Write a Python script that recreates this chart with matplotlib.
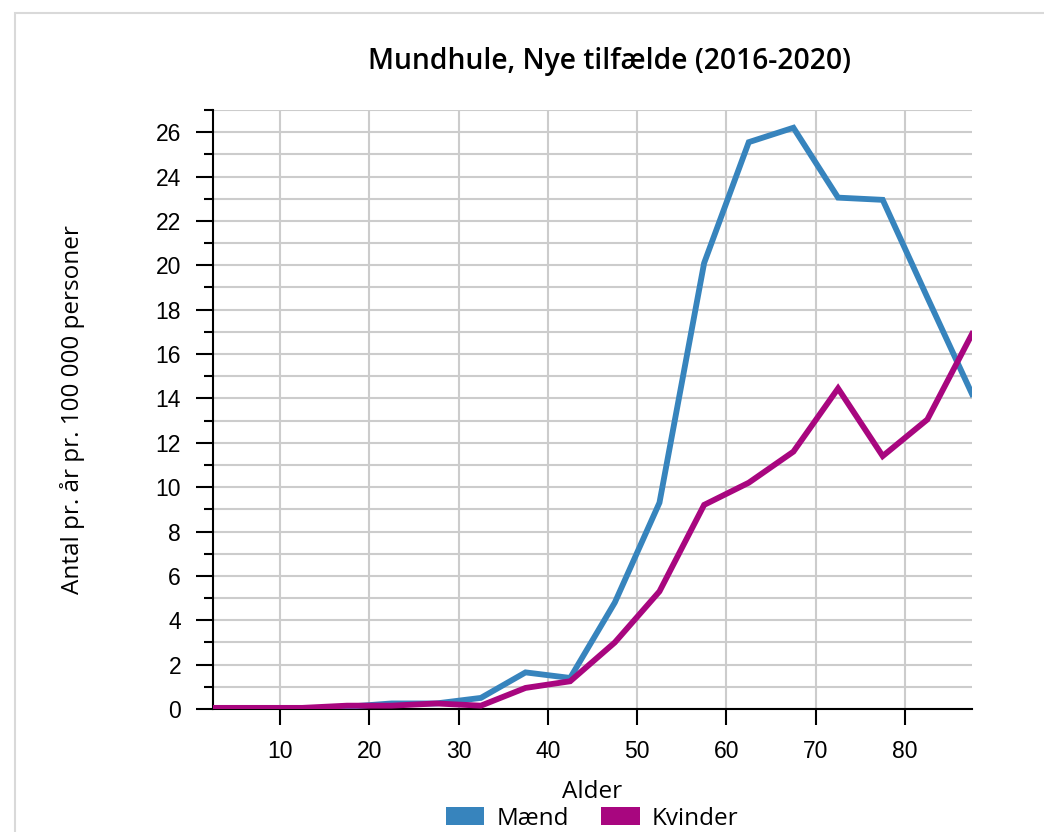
import numpy as np
import matplotlib.pyplot as plt
from matplotlib.patches import Rectangle, Patch
from matplotlib.ticker import MultipleLocator

# age group midpoints
alder = [2.5, 7.5, 12.5, 17.5, 22.5, 27.5, 32.5, 37.5, 42.5,
         47.5, 52.5, 57.5, 62.5, 67.5, 72.5, 77.5, 82.5, 87.5]
maend = [0.0, 0.0, 0.0, 0.1, 0.25, 0.25, 0.5, 1.65, 1.4,
         4.8, 9.3, 20.1, 25.55, 26.2, 23.05, 22.95, 18.55, 14.2]
kvinder = [0.05, 0.05, 0.05, 0.15, 0.15, 0.25, 0.15, 0.95, 1.25,
           3.0, 5.3, 9.2, 10.2, 11.6, 14.45, 11.4, 13.05, 16.9]
serier = ["Mænd", "Kvinder"]
farver = ["#3784bd", "#a8067f"]

label_font = ["Open Sans", "DejaVu Sans"]
tick_font = ["Liberation Sans", "DejaVu Sans"]

fig = plt.figure(figsize=(10.44, 8.32), dpi=100)
fig.patches.append(Rectangle((15 / 1044, -0.1), 1.2, (832 - 13) / 832 + 0.1,
                             transform=fig.transFigure, fill=False,
                             edgecolor="#d9d9d9", linewidth=1.5))

ax = fig.add_axes([213 / 1044, 123 / 832, 759 / 1044, 599 / 832])

for vals, name, col in zip([maend, kvinder], serier, farver):
    ax.plot(alder, vals, color=col, linewidth=4.2, label=name,
            solid_joinstyle="miter", zorder=3)

ax.set_xlim(2.5, 87.5)
ax.set_ylim(0, 27)
ax.xaxis.set_major_locator(MultipleLocator(10))
ax.yaxis.set_major_locator(MultipleLocator(2))
ax.yaxis.set_minor_locator(MultipleLocator(1))

ax.grid(True, which="major", axis="x", color="#cccccc", linewidth=1.5)
ax.grid(True, which="both", axis="y", color="#cccccc", linewidth=1.5)
ax.set_axisbelow(True)

for s in ["top", "right"]:
    ax.spines[s].set_visible(False)
for s in ["left", "bottom"]:
    ax.spines[s].set_linewidth(1.5)
    ax.spines[s].set_color("black")

ax.tick_params(axis="x", which="major", length=11.5, width=1.5, pad=11)
ax.tick_params(axis="y", which="major", length=12, width=1.5, pad=11)
ax.tick_params(axis="y", which="minor", length=6.5, width=1.5)
for lab in ax.get_xticklabels() + ax.get_yticklabels():
    lab.set_fontfamily(tick_font)
    lab.set_fontsize(16.5)

ax.set_xlabel("Alder", fontsize=17.5, family=label_font, labelpad=12)
ax.set_ylabel("Antal pr. år pr. 100 000 personer", fontsize=17.5,
              family=label_font, labelpad=51)

fig.text(610 / 1044, 770 / 832, "Mundhule, Nye tilfælde (2016-2020)",
         ha="center", va="center", fontsize=20.3, fontweight="semibold",
         family=label_font)

handles = [Patch(facecolor=c, edgecolor="none") for c in farver]
fig.legend(handles, serier, loc="lower center",
           bbox_to_anchor=(592 / 1044, 0.0), ncol=2, frameon=False,
           prop={"family": label_font, "size": 17.5}, handlelength=1.6,
           handleheight=0.75, columnspacing=1.3, handletextpad=0.5,
           borderpad=0.0, borderaxespad=0.05)

fig.savefig("out.png", dpi=100)
